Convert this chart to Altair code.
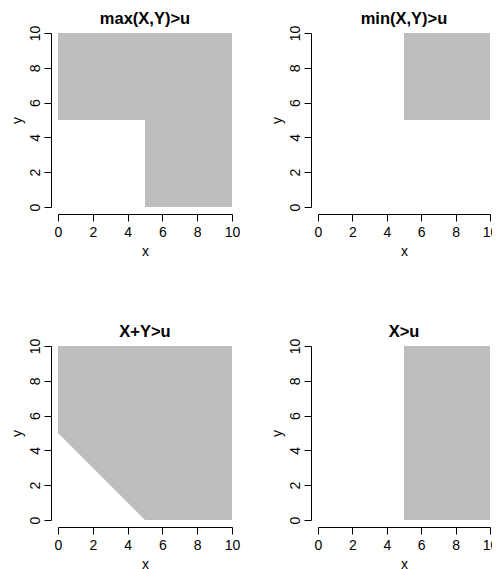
import altair as alt
import pandas as pd

# threshold u = 5 on a [0, 10] x [0, 10] square
titles = ["max(X,Y)>u", "min(X,Y)>u", "X+Y>u", "X>u"]

# lower boundary of each shaded region (upper boundary is y = 10)
max_x = [0, 5, 5, 10]
max_y = [5, 5, 0, 0]
min_x = [5, 10]
min_y = [5, 5]
sum_x = [0, 5, 10]
sum_y = [5, 0, 0]
xgt_x = [5, 10]
xgt_y = [0, 0]
upper_y = 10

axis_domain = [0, 10]
tick_values = [0, 2, 4, 6, 8, 10]

FONT = "Liberation Sans"


def panel(title, xs, ys, w):
    df = pd.DataFrame({"x": xs, "ylo": ys, "yhi": [upper_y] * len(xs)})
    sc = alt.Scale(domain=axis_domain, nice=False, zero=False)
    return (
        alt.Chart(df, title=alt.Title(title, fontSize=16.5, fontWeight="bold", font=FONT,
                                      color="black", frame="group", anchor="middle", offset=-2))
        .mark_area(color="#bebebe", opacity=1)
        .encode(
            x=alt.X("x:Q", scale=sc,
                    axis=alt.Axis(values=tick_values, title="x", offset=7, labelPadding=4,
                                  titlePadding=5.5, labelAlign="center", labelBaseline="top")),
            y=alt.Y("ylo:Q", scale=sc,
                    axis=alt.Axis(values=tick_values, title="y", offset=7, labelAngle=270,
                                  labelAlign="center", labelBaseline="alphabetic", labelPadding=5,
                                  titlePadding=4)),
            y2="yhi:Q",
        )
        .properties(width=w, height=174)
    )


charts = [
    panel(titles[0], max_x, max_y, 174),
    panel(titles[1], min_x, min_y, 172),
    panel(titles[2], sum_x, sum_y, 174),
    panel(titles[3], xgt_x, xgt_y, 172),
]

chart = (
    alt.concat(*charts, columns=2, spacing={"row": 139, "column": 86}, bounds="flush")
    .properties(padding={"left": 2, "top": 2, "right": -6.5, "bottom": 0})
    .configure_view(stroke=None)
    .configure_axis(
        grid=False,
        labelFont=FONT, labelFontSize=14, labelColor="black",
        titleFont=FONT, titleFontSize=14, titleFontWeight="normal", titleColor="black",
        domainColor="black", domainWidth=1, tickColor="black", tickWidth=1, tickSize=7,
        labelOverlap=False, labelFlush=False,
    )
)

chart.save("out.html", embed_options={"renderer": "svg", "actions": False})
